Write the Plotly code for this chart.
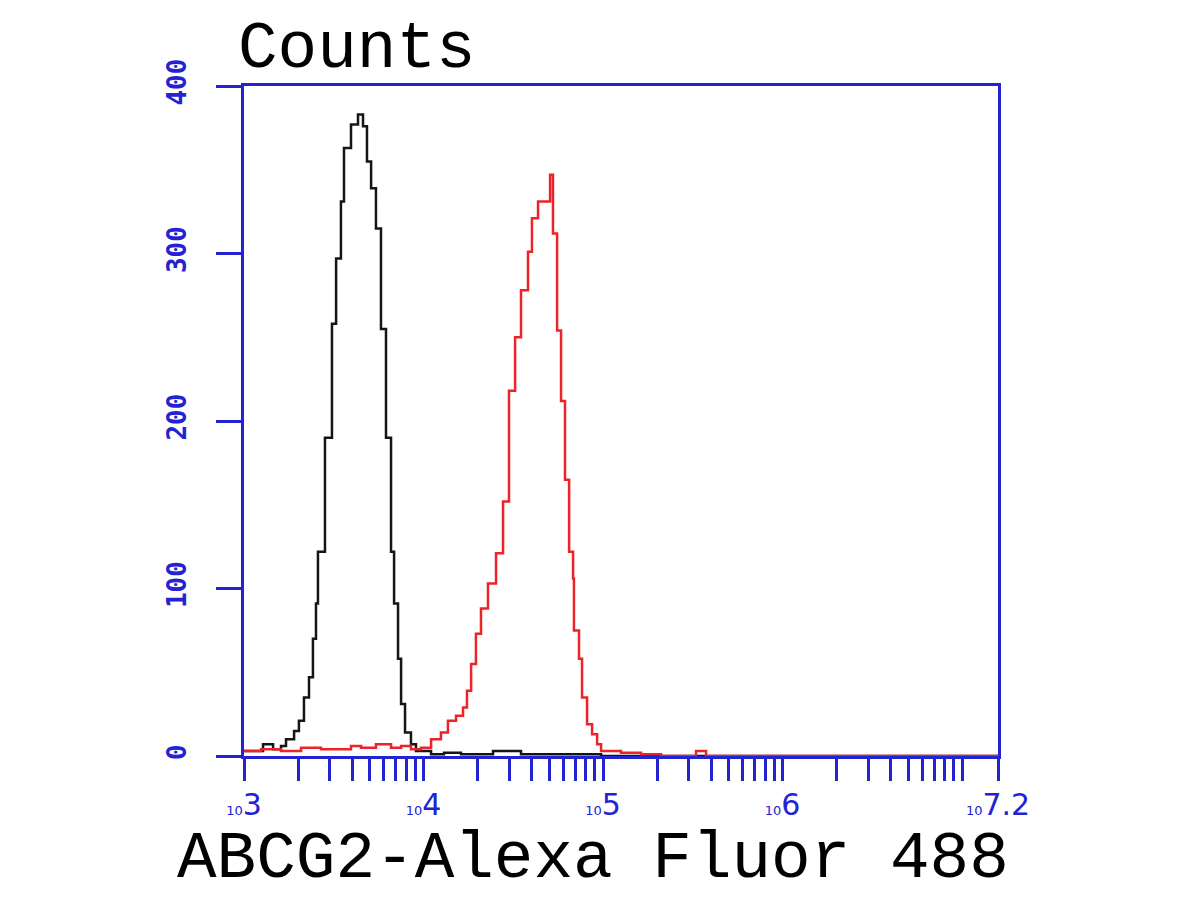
import plotly.graph_objects as go

# ---- data (log10 fluorescence intensity, counts) ----
black_log = [3.000, 3.039, 3.106, 3.162, 3.206, 3.234, 3.279, 3.306, 3.334, 3.362,
             3.384, 3.401, 3.412, 3.451, 3.490, 3.513, 3.540, 3.557, 3.596, 3.635,
             3.663, 3.685, 3.708, 3.735, 3.763, 3.791, 3.819, 3.836, 3.858, 3.875,
             3.897, 3.930, 3.958, 4.042, 4.114, 4.209, 4.387, 4.543, 4.989, 7.200]
black_counts = [3, 3, 7, 4, 6, 10, 15, 21, 35, 47,
                70, 91, 122, 190, 258, 297, 331, 363, 377, 383,
                376, 355, 339, 315, 255, 190, 122, 91, 58, 31,
                14, 7, 3, 1, 2, 1, 3, 1, 0, 0]

red_log = [3.000, 3.095, 3.206, 3.318, 3.429, 3.596, 3.652, 3.735, 3.819, 3.875,
           3.930, 3.986, 4.042, 4.097, 4.136, 4.181, 4.220, 4.242, 4.265, 4.292,
           4.320, 4.359, 4.404, 4.443, 4.476, 4.510, 4.543, 4.582, 4.604, 4.638,
           4.682, 4.705, 4.721, 4.744, 4.766, 4.788, 4.811, 4.833, 4.838, 4.866,
           4.883, 4.911, 4.939, 4.967, 4.989, 5.100, 5.212, 5.323, 5.518, 5.574, 7.200]
red_counts = [3, 4, 3, 5, 4, 6, 5, 7, 5, 6,
              4, 5, 10, 14, 21, 24, 29, 39, 55, 73,
              88, 103, 121, 152, 218, 250, 278, 301, 321, 331,
              331, 347, 312, 254, 212, 165, 122, 106, 75, 58,
              35, 19, 13, 7, 3, 2, 1, 0, 3, 0, 0]

y_ticks = [0, 100, 200, 300, 400]
x_major_exp = [3, 4, 5, 6]
x_end_exp = 7.2
x_title = "ABCG2-Alexa Fluor 488"
y_title = "Counts"

BLUE = "rgb(35,35,210)"

black_x = [10 ** e for e in black_log]
red_x = [10 ** e for e in red_log]

# tick positions (major + minor) on the log axis
tickvals, ticktext = [], []
for d in x_major_exp:
    for k in range(1, 10):
        tickvals.append(k * 10 ** d)
        ticktext.append(
            f"<span style='font-size:13px'>10</span>{d}" if k == 1 else "")
tickvals.append(10 ** 7)
ticktext.append("")
tickvals.append(10 ** x_end_exp)
ticktext.append(f"<span style='font-size:13px'>10</span>{x_end_exp}")

fig = go.Figure()
fig.add_trace(go.Scatter(x=black_x, y=black_counts, mode="lines",
                         line=dict(color="#151515", width=2.5, shape="hv"),
                         showlegend=False))
fig.add_trace(go.Scatter(x=red_x, y=red_counts, mode="lines",
                         line=dict(color="#ec2328", width=2.5, shape="hv"),
                         showlegend=False))

fig.update_layout(
    width=1200, height=900,
    margin=dict(l=236, r=210, t=78, b=152),
    paper_bgcolor="white", plot_bgcolor="white",
    xaxis=dict(type="log", range=[3, x_end_exp],
               showgrid=False, zeroline=False,
               showline=True, linecolor=BLUE, linewidth=3, mirror=True,
               ticks="outside", ticklen=22, tickwidth=3, tickcolor=BLUE,
               tickvals=tickvals, ticktext=ticktext,
               tickfont=dict(family="DejaVu Sans", size=30, color=BLUE),
               ticklabelstandoff=-2),
    yaxis=dict(range=[0, 400], showgrid=False, zeroline=False,
               showline=True, linecolor=BLUE, linewidth=3, mirror=True,
               ticks="outside", ticklen=25, tickwidth=3, tickcolor=BLUE,
               tickvals=y_ticks, ticktext=[f"<b>{v}</b>" for v in y_ticks],
               tickangle=-90,
               tickfont=dict(family="DejaVu Sans Mono", size=26, color=BLUE),
               ticklabelstandoff=20),
    annotations=[
        dict(text=y_title, xref="paper", yref="paper", x=-0.01, y=1.055,
             xanchor="left", yanchor="middle", showarrow=False,
             font=dict(family="Liberation Mono", size=66, color="black")),
        dict(text=x_title, xref="paper", yref="paper", x=0.463, y=-0.154,
             xanchor="center", yanchor="middle", showarrow=False,
             font=dict(family="Liberation Mono", size=66, color="black")),
    ],
)

fig.write_html("out.html")
